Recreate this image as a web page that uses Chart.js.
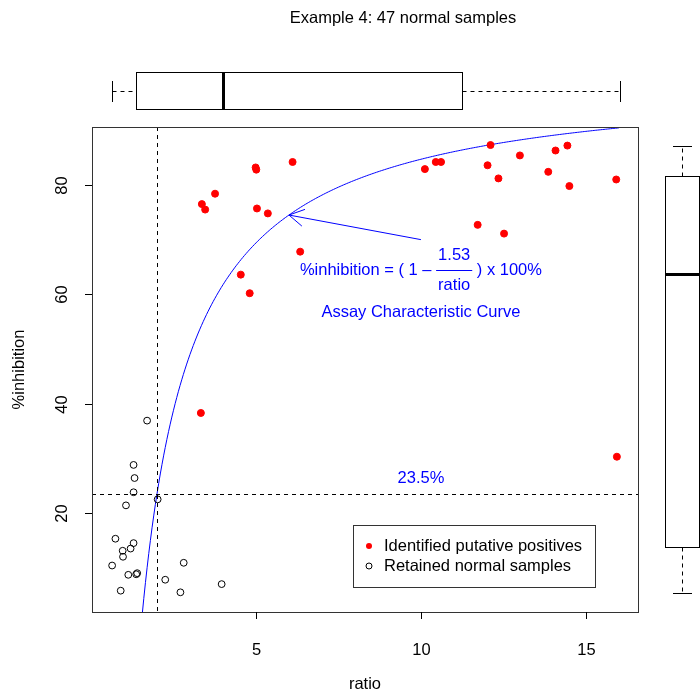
<!DOCTYPE html>
<html>
<head>
<meta charset="utf-8">
<title>Example 4: 47 normal samples</title>
<script src="https://cdn.jsdelivr.net/npm/chart.js@4.4.1/dist/chart.umd.min.js"></script>
<style>
    html, body { margin: 0; padding: 0; background: #fff; }
    #wrap { position: relative; width: 700px; height: 693px; }
</style>
</head>
<body>
<div id="wrap"><canvas id="chart"></canvas></div>
<script>
// Samples flagged as putative positives (ratio, %inhibition)
const positiveRatio = [6.11, 4.99, 5.01, 3.76, 3.36, 3.46, 5.03, 5.36, 6.34, 4.54, 4.81, 3.33, 15.94,
    10.12, 10.45, 10.61, 12.11, 12.02, 12.35, 13.0, 13.86, 14.08, 14.44, 14.5, 15.92, 11.72, 12.52];
const positiveInhib = [84.2, 83.2, 82.8, 78.4, 76.5, 75.5, 75.7, 74.8, 67.8, 63.6, 60.2, 38.3, 30.3,
    82.9, 84.2, 84.2, 87.3, 83.6, 81.2, 85.4, 82.4, 86.3, 87.2, 79.8, 81.0, 72.7, 71.1];

// Samples retained as normal
const normalRatio = [1.70, 1.29, 1.32, 1.29, 2.02, 1.06, 0.74, 1.29, 0.96, 1.20, 0.97, 2.81,
    0.64, 1.13, 1.37, 1.40, 2.25, 3.96, 0.90, 2.71];
const normalInhib = [36.9, 28.8, 26.4, 23.8, 22.5, 21.4, 15.3, 14.5, 13.1, 13.5, 12.0, 10.9,
    10.4, 8.7, 8.8, 9.0, 7.8, 7.0, 5.8, 5.5];

// Box summaries: lower whisker, Q1, median, Q3, upper whisker
const ratioBox = [0.65, 1.35, 4.0, 11.24, 16.04];
const inhibBox = [5.4, 13.8, 63.7, 81.7, 87.2];

const xTicks = [5, 10, 15];
const yTicks = [20, 40, 60, 80];

// Assay characteristic curve: %inhibition = (1 - k / ratio) * 100
const curveK = 1.53;
const cutPoint = 23.5;
const curveFrom = 1.45;
const curveTo = 16;

const FONT = '"Liberation Sans", Arial, sans-serif';
const FS = 16.5;
const BLUE = '#0000ff';

function inhibition(r) {
    return (1 - curveK / r) * 100;
}

const curvePoints = [];
for (let r = curveFrom; r <= curveTo + 1e-9; r += 0.05) {
    curvePoints.push({ x: r, y: inhibition(r) });
}

function pairs(xs, ys) {
    return xs.map((v, i) => ({ x: v, y: ys[i] }));
}

function drawText(ctx, text, x, y, size, color, align) {
    ctx.font = size + 'px ' + FONT;
    ctx.fillStyle = color;
    ctx.textAlign = align || 'center';
    ctx.textBaseline = 'middle';
    ctx.fillText(text, x, y);
}

function hline(ctx, x1, x2, y) {
    ctx.beginPath();
    ctx.moveTo(x1, y);
    ctx.lineTo(x2, y);
    ctx.stroke();
}

function vline(ctx, x, y1, y2) {
    ctx.beginPath();
    ctx.moveTo(x, y1);
    ctx.lineTo(x, y2);
    ctx.stroke();
}

const basePlot = {
    id: 'basePlot',
    afterDatasetsDraw(chart) {
        const { ctx, chartArea: a, scales: { x, y } } = chart;
        ctx.save();
        ctx.strokeStyle = '#000';
        ctx.lineWidth = 1;
        ctx.setLineDash([4, 4]);
        // cut point lines
        const vx = Math.round(x.getPixelForValue(curveK / (1 - cutPoint / 100))) + 0.5;
        vline(ctx, vx, a.top, a.bottom);
        const hy = Math.round(y.getPixelForValue(cutPoint)) + 0.5;
        hline(ctx, a.left, a.right, hy);
        ctx.setLineDash([]);

        // arrow pointing at the curve
        const tx = x.getPixelForValue(10), ty = y.getPixelForValue(70);
        const hx = x.getPixelForValue(6), hy2 = y.getPixelForValue(inhibition(6));
        ctx.strokeStyle = BLUE;
        ctx.beginPath();
        ctx.moveTo(tx, ty);
        ctx.lineTo(hx, hy2);
        const ang = Math.atan2(ty - hy2, tx - hx);
        const len = 17;
        [-Math.PI / 6, Math.PI / 6].forEach(d => {
            ctx.moveTo(hx, hy2);
            ctx.lineTo(hx + len * Math.cos(ang + d), hy2 + len * Math.sin(ang + d));
        });
        ctx.stroke();
        ctx.restore();
    },
    afterDraw(chart) {
        const { ctx, chartArea: a, scales: { x, y } } = chart;
        ctx.save();
        ctx.strokeStyle = '#000';
        ctx.lineWidth = 1;

        // plot frame
        ctx.strokeStyle = '#333';
        ctx.strokeRect(Math.round(a.left) + 0.5, Math.round(a.top) + 0.5,
            Math.round(a.right - a.left), Math.round(a.bottom - a.top));
        ctx.strokeStyle = '#000';

        // x axis
        xTicks.forEach(t => {
            const px = Math.round(x.getPixelForValue(t)) + 0.5;
            vline(ctx, px, a.bottom, a.bottom + 7);
            drawText(ctx, String(t), px, a.bottom + 38, FS, '#000');
        });
        // y axis, labels parallel to axis
        yTicks.forEach(t => {
            const py = Math.round(y.getPixelForValue(t)) + 0.5;
            hline(ctx, a.left - 7, a.left, py);
            ctx.save();
            ctx.translate(a.left - 30, py);
            ctx.rotate(-Math.PI / 2);
            drawText(ctx, String(t), 0, 0, FS, '#000');
            ctx.restore();
        });

        drawText(ctx, 'ratio', (a.left + a.right) / 2, 684, FS, '#000');
        ctx.save();
        ctx.translate(19, (a.top + a.bottom) / 2);
        ctx.rotate(-Math.PI / 2);
        drawText(ctx, '%inhibition', 0, 0, FS, '#000');
        ctx.restore();

        drawText(ctx, 'Example 4: 47 normal samples', 403, 18, FS, '#000');

        // horizontal box of ratio above the plot
        const bTop = 72.5, bBot = 109.5, bMid = 91.5;
        const rx = ratioBox.map(v => Math.round(x.getPixelForValue(v)) + 0.5);
        ctx.strokeRect(rx[1], bTop, rx[3] - rx[1], bBot - bTop);
        ctx.setLineDash([4, 4]);
        hline(ctx, rx[0], rx[1], bMid);
        hline(ctx, rx[3], rx[4], bMid);
        ctx.setLineDash([]);
        vline(ctx, rx[0], 81, 102);
        vline(ctx, rx[4], 81, 102);
        ctx.lineWidth = 3;
        vline(ctx, rx[2], bTop, bBot);
        ctx.lineWidth = 1;

        // vertical box of %inhibition right of the plot
        const cL = 665.5, cR = 699.5, cMid = 682.5;
        const iy = inhibBox.map(v => Math.round(y.getPixelForValue(v)) + 0.5);
        ctx.strokeRect(cL, iy[3], cR - cL, iy[1] - iy[3]);
        ctx.setLineDash([4, 4]);
        vline(ctx, cMid, iy[1], iy[0]);
        vline(ctx, cMid, iy[3], iy[4]);
        ctx.setLineDash([]);
        hline(ctx, 673, 692, iy[0]);
        hline(ctx, 673, 692, iy[4]);
        ctx.lineWidth = 3;
        hline(ctx, cL, cR, iy[2]);
        ctx.lineWidth = 1;

        // curve annotation
        const cx = x.getPixelForValue(10);
        const cy = y.getPixelForValue(64.3);
        ctx.font = FS + 'px ' + FONT;
        const left = '%inhibition = ( 1 \u2013 ';
        const right = ' ) x 100%';
        const wl = ctx.measureText(left).width;
        const wr = ctx.measureText(right).width;
        const wf = Math.max(ctx.measureText('1.53').width, ctx.measureText('ratio').width) + 4;
        const x0 = cx - (wl + wf + wr) / 2;
        drawText(ctx, left, x0, cy, FS, BLUE, 'left');
        drawText(ctx, '1.53', x0 + wl + wf / 2, cy - 15, FS, BLUE);
        drawText(ctx, 'ratio', x0 + wl + wf / 2, cy + 15, FS, BLUE);
        ctx.strokeStyle = BLUE;
        hline(ctx, x0 + wl, x0 + wl + wf, Math.round(cy) - 0.5);
        drawText(ctx, right, x0 + wl + wf, cy, FS, BLUE, 'left');
        drawText(ctx, 'Assay Characteristic Curve', cx, y.getPixelForValue(56.6), FS, BLUE);
        drawText(ctx, cutPoint + '%', cx, y.getPixelForValue(26.4), FS, BLUE);

        // legend
        ctx.strokeStyle = '#333';
        ctx.lineWidth = 1;
        ctx.fillStyle = '#fff';
        ctx.fillRect(353.5, 525.5, 242, 62);
        ctx.strokeRect(353.5, 525.5, 242, 62);
        const ds = chart.data.datasets;
        [[ds[0], 546], [ds[1], 566]].forEach(([d, ly]) => {
            ctx.beginPath();
            ctx.arc(369, ly, 3, 0, Math.PI * 2);
            if (d.backgroundColor !== 'transparent') {
                ctx.fillStyle = d.backgroundColor;
                ctx.fill();
            } else {
                ctx.strokeStyle = '#000';
                ctx.stroke();
            }
            drawText(ctx, d.label, 384, ly, FS, '#000', 'left');
        });
        ctx.restore();
    }
};

new Chart(document.getElementById('chart'), {
    type: 'scatter',
    data: {
        datasets: [
            {
                label: 'Identified putative positives',
                data: pairs(positiveRatio, positiveInhib),
                backgroundColor: '#ff0000',
                borderColor: '#ff0000',
                borderWidth: 1,
                pointRadius: 3.5
            },
            {
                label: 'Retained normal samples',
                data: pairs(normalRatio, normalInhib),
                backgroundColor: 'transparent',
                borderColor: '#000',
                borderWidth: 1,
                pointRadius: 3.4
            },
            {
                type: 'line',
                label: 'curve',
                data: curvePoints,
                borderColor: BLUE,
                borderWidth: 1,
                pointRadius: 0,
                tension: 0,
                fill: false
            }
        ]
    },
    options: {
        responsive: true,
        maintainAspectRatio: false,
        animation: false,
        events: [],
        layout: { padding: { left: 92, right: 62, top: 127, bottom: 81 } },
        scales: {
            x: { type: 'linear', min: 0.03, max: 16.58, display: false },
            y: { type: 'linear', min: 1.9, max: 90.6, display: false }
        },
        plugins: {
            legend: { display: false },
            tooltip: { enabled: false }
        }
    },
    plugins: [basePlot]
});
</script>
</body>
</html>
